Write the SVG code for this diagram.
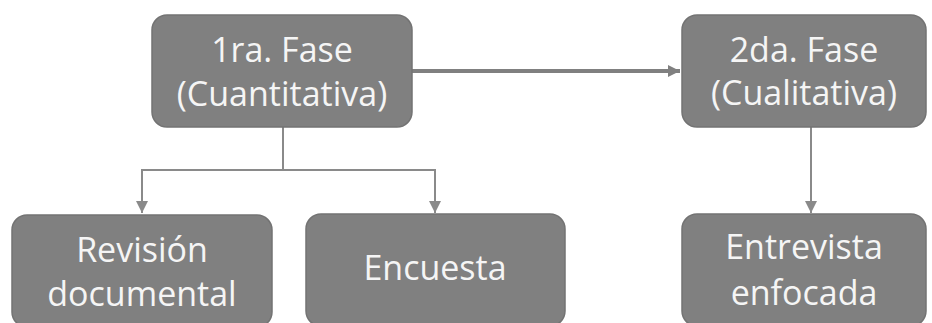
<svg xmlns="http://www.w3.org/2000/svg" width="932" height="323" viewBox="0 0 932 323">
<style>
.box{fill:#808080;stroke:#737373;stroke-width:1.5}
.t{font-family:"Open Sans","Liberation Sans",sans-serif;font-size:34px;fill:#f5f5f5;text-anchor:middle}
.c{fill:none;stroke:#8a8a8a;stroke-width:2}
</style>
<defs>
<marker id="ah" viewBox="0 0 10 10" refX="10" refY="5" markerWidth="6" markerHeight="6" markerUnits="userSpaceOnUse" orient="auto"><path d="M0,0L10,5L0,10z" fill="#8a8a8a"/></marker>
<marker id="ah2" viewBox="0 0 10 10" refX="10" refY="5" markerWidth="3" markerHeight="3" orient="auto"><path d="M0,0L10,5L0,10z" fill="#808080"/></marker>
<marker id="ah3" viewBox="0 0 10 10" refX="10" refY="5" markerWidth="12" markerHeight="12" markerUnits="userSpaceOnUse" orient="auto"><path d="M0,0L10,5L0,10z" fill="#8a8a8a"/></marker>
</defs>
<rect width="932" height="323" fill="#ffffff"/>
<g id="connectors">
<path class="c" d="M412,71H680" stroke-width="4" stroke="#808080" style="stroke:#808080;stroke-width:4" marker-end="url(#ah2)"/>
<path class="c" d="M283,127V170H142V213" marker-end="url(#ah3)"/>
<path class="c" d="M283,170H435V213" marker-end="url(#ah3)"/>
<path class="c" d="M811,127V213" marker-end="url(#ah3)"/>
</g>
<g id="n1"><rect class="box" x="152" y="15" width="260" height="112" rx="15"/><text class="t" x="282" y="62">1ra. Fase</text><text class="t" x="282" y="106">(Cuantitativa)</text></g>
<g id="n2"><rect class="box" x="682" y="15" width="244" height="112" rx="15"/><text class="t" x="804" y="62">2da. Fase</text><text class="t" x="804" y="105">(Cualitativa)</text></g>
<g id="n3"><rect class="box" x="12" y="215" width="260" height="112" rx="15"/><text class="t" x="142" y="262">Revisión</text><text class="t" x="142" y="306">documental</text></g>
<g id="n4"><rect class="box" x="306" y="214" width="259" height="112" rx="15"/><text class="t" x="435" y="280">Encuesta</text></g>
<g id="n5"><rect class="box" x="682" y="214" width="244" height="112" rx="15"/><text class="t" x="804" y="259">Entrevista</text><text class="t" x="804" y="305">enfocada</text></g>
</svg>
